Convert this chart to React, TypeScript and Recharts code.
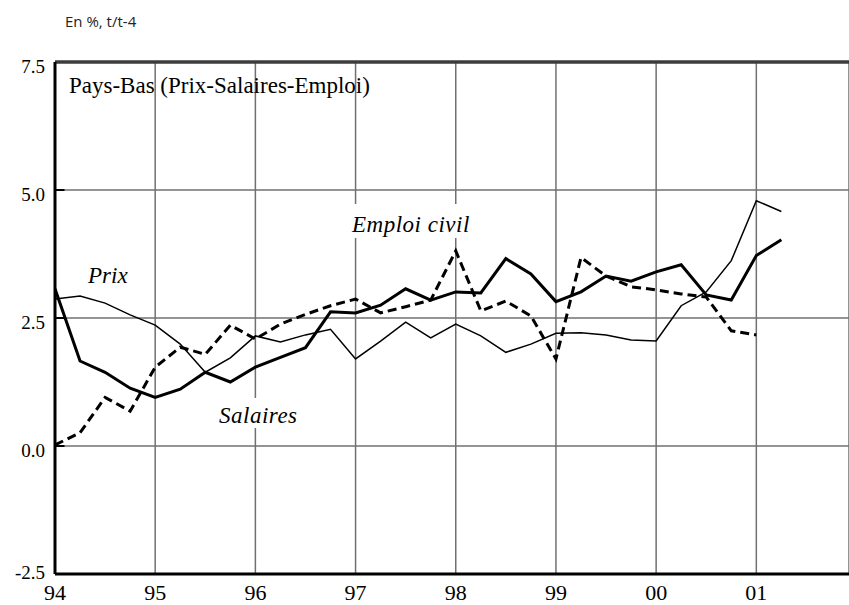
import { LineChart, Line, XAxis, YAxis, CartesianGrid, ReferenceLine } from 'recharts';

// quarterly, t/t-4, from 1994 Q1
const yearLabels = ['94', '95', '96', '97', '98', '99', '00', '01'];
const yTicks = [-2.5, 0, 2.5, 5, 7.5];

const prix = [2.87, 2.93, 2.79, 2.56, 2.36, 1.99, 1.44, 1.72, 2.15, 2.03, 2.17, 2.28, 1.70, 2.05, 2.42, 2.11, 2.38, 2.15, 1.83, 1.99, 2.20, 2.21, 2.17, 2.07, 2.05, 2.74, 3.01, 3.62, 4.79, 4.58];
const salaires = [3.07, 1.66, 1.44, 1.13, 0.95, 1.11, 1.44, 1.25, 1.54, 1.73, 1.92, 2.62, 2.60, 2.75, 3.07, 2.85, 3.01, 2.99, 3.66, 3.36, 2.82, 3.01, 3.32, 3.22, 3.40, 3.54, 2.95, 2.85, 3.72, 4.03];
const emploi = [0.02, 0.26, 0.95, 0.68, 1.54, 1.93, 1.79, 2.36, 2.09, 2.38, 2.57, 2.74, 2.87, 2.60, 2.72, 2.85, 3.81, 2.64, 2.83, 2.54, 1.70, 3.68, 3.32, 3.11, 3.05, 2.97, 2.91, 2.25, 2.17];

const data = prix.map((p, i) => ({
    t: i,
    prix: p,
    salaires: salaires[i],
    emploi: i < emploi.length ? emploi[i] : null,
}));

const serif = 'Liberation Serif, Times New Roman, serif';

const YTick = ({ x, y, payload }: any) => (
    <text x={x} y={y + (payload.value === -2.5 ? 5 : 11)} textAnchor="end" fontFamily={serif} fontSize={19} fill="#000" style={{ fontFamily: serif }}>
        {payload.value.toFixed(1)}
    </text>
);

const XTick = ({ x, y, payload }: any) => (
    <text x={x} y={y + 26} textAnchor="middle" fontFamily={serif} fontSize={22} fill="#000" style={{ fontFamily: serif }}>
        {yearLabels[Math.round(payload.value / 4)]}
    </text>
);

export default function App() {
    return (
        <div style={{ position: 'absolute', left: 0, top: 0, width: 849, height: 605, background: '#fff', overflow: 'hidden' }}>
            <LineChart width={849} height={605} data={data} margin={{ top: 62, right: 0, bottom: 0, left: 0 }}>
                <CartesianGrid stroke="#707070" strokeWidth={1.5} />
                <XAxis
                    dataKey="t"
                    type="number"
                    domain={[0, 31.7]}
                    ticks={yearLabels.map((_, i) => i * 4)}
                    allowDataOverflow
                    height={31}
                    tickSize={0}
                    tickMargin={0}
                    tick={<XTick />}
                    axisLine={{ stroke: '#000', strokeWidth: 3 }}
                />
                <YAxis
                    type="number"
                    domain={[-2.5, 7.5]}
                    ticks={yTicks}
                    width={55}
                    tickSize={0}
                    tickMargin={10}
                    tick={<YTick />}
                    axisLine={{ stroke: '#000', strokeWidth: 3 }}
                />
                <ReferenceLine y={7.5} stroke="#3c3c3c" strokeWidth={3.5} />
                {/* small inward ticks on the left axis */}
                {yTicks.slice(1, -1).map((v) => (
                    <ReferenceLine key={v} segment={[{ x: 0, y: v }, { x: 0.38, y: v }]} stroke="#000" strokeWidth={2} />
                ))}
                <Line type="linear" dataKey="prix" stroke="#000" strokeWidth={1.5} dot={false} isAnimationActive={false} />
                <Line type="linear" dataKey="emploi" stroke="#000" strokeWidth={3} strokeDasharray="9 5" dot={false} isAnimationActive={false} />
                <Line type="linear" dataKey="salaires" stroke="#000" strokeWidth={3} dot={false} isAnimationActive={false} />
            </LineChart>
            <svg width={849} height={605} style={{ position: 'absolute', left: 0, top: 0, pointerEvents: 'none', fontFamily: serif }}>
                <text x={65} y={27} style={{ fontFamily: '"Open Sans", sans-serif' }} fontSize={15} fill="#222">En %, t/t-4</text>
                <text x={69} y={93} fontSize={23} fill="#000">Pays-Bas (Prix-Salaires-Emploi)</text>
                <text x={88} y={283} fontStyle="italic" fontSize={23} fill="#000">Prix</text>
                <rect x={346} y={204} width={128} height={34} fill="#fff" />
                <text x={352} y={232} fontStyle="italic" fontSize={23} letterSpacing={0.5} fill="#000">Emploi civil</text>
                <rect x={213} y={398} width={92} height={30} fill="#fff" />
                <text x={219} y={423} fontStyle="italic" fontSize={23} letterSpacing={0.5} fill="#000">Salaires</text>
            </svg>
        </div>
    );
}
